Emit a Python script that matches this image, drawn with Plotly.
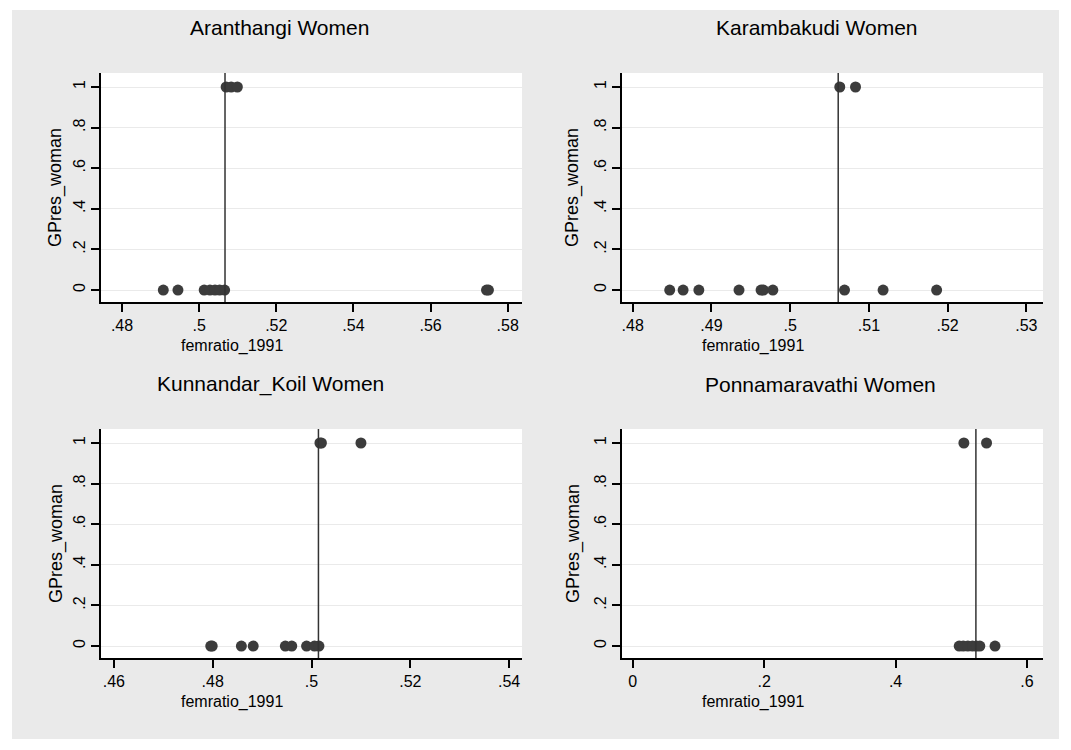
import plotly.graph_objects as go

W, H = 1071, 750

# ---- data ----
panel_titles = ["Aranthangi Women", "Karambakudi Women", "Kunnandar_Koil Women", "Ponnamaravathi Women"]

aran_x0 = [0.4907, 0.4945, 0.5013, 0.5028, 0.5041, 0.5053, 0.5066, 0.5745, 0.5750]
aran_x1 = [0.5070, 0.5083, 0.5099]
aran_cut = 0.5067

kar_x0 = [0.4847, 0.4864, 0.4884, 0.4935, 0.4963, 0.4966, 0.4978, 0.5069, 0.5118, 0.5186]
kar_x1 = [0.5063, 0.5083]
kar_cut = 0.5061

kun_x0 = [0.4796, 0.4799, 0.4858, 0.4882, 0.4947, 0.4960, 0.4990, 0.5006, 0.5015]
kun_x1 = [0.5017, 0.5020, 0.5100]
kun_cut = 0.5014

pon_x0 = [0.4968, 0.5030, 0.5100, 0.5170, 0.5230, 0.5282, 0.5513]
pon_x1 = [0.5039, 0.5384]
pon_cut = 0.5222

x_ticks = [
    [0.48, 0.50, 0.52, 0.54, 0.56, 0.58],
    [0.48, 0.49, 0.50, 0.51, 0.52, 0.53],
    [0.46, 0.48, 0.50, 0.52, 0.54],
    [0.0, 0.2, 0.4, 0.6],
]
x_ticklabels = [
    [".48", ".5", ".52", ".54", ".56", ".58"],
    [".48", ".49", ".5", ".51", ".52", ".53"],
    [".46", ".48", ".5", ".52", ".54"],
    ["0", ".2", ".4", ".6"],
]
x_ranges = [
    [0.47455, 0.5837],
    [0.47864, 0.53211],
    [0.45739, 0.5426],
    [-0.01627, 0.6243],
]
y_ticks = [0, 0.2, 0.4, 0.6, 0.8, 1]
y_ticklabels = ["0", ".2", ".4", ".6", ".8", "1"]
y_range = [-0.059, 1.069]

x_title = "femratio_1991"
y_title = "GPres_woman"

zeros_x = [aran_x0, kar_x0, kun_x0, pon_x0]
ones_x = [aran_x1, kar_x1, kun_x1, pon_x1]
cuts = [aran_cut, kar_cut, kun_cut, pon_cut]

# ---- layout geometry (pixels) ----
boxes = [  # left, right, top, bottom
    (101, 522, 73, 302),
    (622, 1043, 73, 302),
    (101, 522, 429, 658),
    (622, 1043, 429, 658),
]

def px(x):
    return x / W

def py(y):
    return 1 - y / H

FONT = "Liberation Sans, Arial, sans-serif"
MARK = "#3c3c3c"
GRAY = "#eaeaea"

fig = go.Figure()
layout = dict(
    width=W, height=H,
    margin=dict(l=0, r=0, t=0, b=0),
    paper_bgcolor="white",
    plot_bgcolor="rgba(0,0,0,0)",
    showlegend=False,
    font=dict(family=FONT, size=17, color="black"),
    shapes=[], annotations=[],
)

layout["shapes"].append(dict(type="rect", xref="paper", yref="paper",
                             x0=px(12), x1=px(1059), y0=py(739), y1=py(10),
                             fillcolor=GRAY, line=dict(width=0), layer="below"))

for i in range(4):
    l, r, t, b = boxes[i]
    sfx = "" if i == 0 else str(i + 1)
    xa, ya = "x" + sfx, "y" + sfx
    layout["shapes"].append(dict(type="rect", xref="paper", yref="paper",
                                 x0=px(l), x1=px(r), y0=py(b), y1=py(t),
                                 fillcolor="white", line=dict(width=0), layer="below"))
    layout["xaxis" + sfx] = dict(
        domain=[px(l), px(r)], anchor=ya, range=x_ranges[i],
        tickvals=x_ticks[i], ticktext=x_ticklabels[i],
        showgrid=False, zeroline=False, showline=True, linecolor="black", linewidth=1.5,
        ticks="outside", ticklen=8, tickwidth=1.5, tickcolor="black",
        tickfont=dict(size=16, family=FONT, color="black"),
    )
    layout["yaxis" + sfx] = dict(
        domain=[py(b), py(t)], anchor=xa, range=y_range,
        tickvals=y_ticks, ticktext=y_ticklabels, tickangle=-90,
        showgrid=True, gridcolor=GRAY, gridwidth=1.2,
        zeroline=False, showline=True, linecolor="black", linewidth=1.5,
        ticks="outside", ticklen=8, tickwidth=1.5, tickcolor="black",
        tickfont=dict(size=16, family=FONT, color="black"),
    )
    # cutoff line
    layout["shapes"].append(dict(type="line", xref=xa, yref=ya + " domain",
                                 x0=cuts[i], x1=cuts[i], y0=0, y1=1,
                                 line=dict(color="#333333", width=1.5), layer="above"))
    # points
    fig.add_trace(go.Scatter(x=zeros_x[i], y=[0] * len(zeros_x[i]), mode="markers",
                             marker=dict(size=11, color=MARK), xaxis=xa, yaxis=ya,
                             hoverinfo="skip"))
    fig.add_trace(go.Scatter(x=ones_x[i], y=[1] * len(ones_x[i]), mode="markers",
                             marker=dict(size=11, color=MARK), xaxis=xa, yaxis=ya,
                             hoverinfo="skip"))

# text positions (pixel centres measured on the reference)
title_pos = [(279, 28), (817, 28), (270, 384), (820, 384)]
xtitle_pos = [(232, 346), (753, 346), (232, 702), (753, 702)]
ytitle_pos = [(56, 188), (573, 188), (56, 544), (573, 544)]

for i in range(4):
    tx, ty = title_pos[i]
    layout["annotations"].append(dict(text=panel_titles[i], x=px(tx), y=py(ty), xref="paper", yref="paper",
                                      showarrow=False, xanchor="center", yanchor="middle",
                                      font=dict(size=21, family=FONT, color="black")))
    ax, ay = xtitle_pos[i]
    layout["annotations"].append(dict(text=x_title, x=px(ax), y=py(ay), xref="paper", yref="paper",
                                      showarrow=False, xanchor="center", yanchor="middle",
                                      font=dict(size=16, family=FONT, color="black")))
    yx, yy = ytitle_pos[i]
    layout["annotations"].append(dict(text=y_title, x=px(yx), y=py(yy), xref="paper", yref="paper",
                                      showarrow=False, xanchor="center", yanchor="middle", textangle=-90,
                                      font=dict(size=18, family=FONT, color="black")))

fig.update_layout(**layout)
fig.write_html("out.html")
